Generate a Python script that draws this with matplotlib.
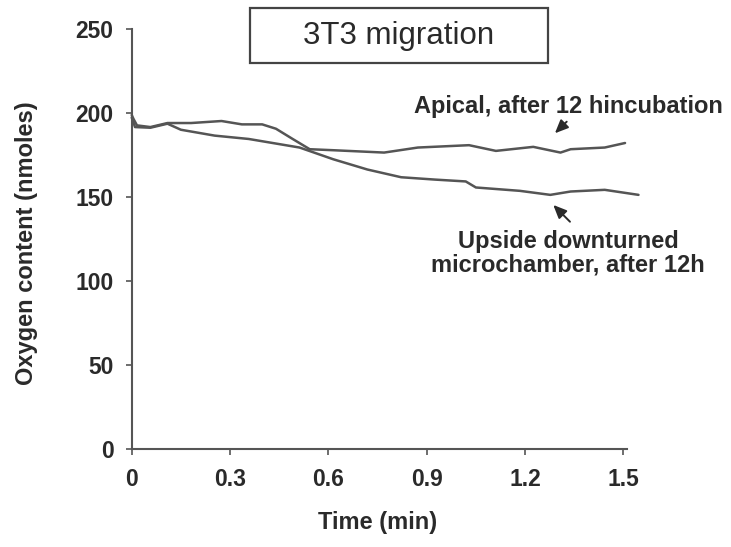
import matplotlib
matplotlib.use("Agg")
import matplotlib.pyplot as plt
from matplotlib.patches import Rectangle

# Oxygen content traces (time in min, oxygen in nmoles)
apical_time = [0.0, 0.005, 0.016, 0.057, 0.109, 0.181, 0.274, 0.336, 0.398, 0.44,
               0.491, 0.543, 0.615, 0.77, 0.873, 1.029, 1.111, 1.225, 1.308,
               1.339, 1.443, 1.505]
apical_o2 = [199.0, 196.8, 192.8, 191.8, 194.2, 194.2, 195.4, 193.4, 193.4, 190.8,
             184.7, 178.6, 178.0, 176.6, 179.6, 181.0, 177.6, 180.0, 176.6,
             178.6, 179.6, 182.3]

upside_time = [0.0, 0.01, 0.057, 0.109, 0.15, 0.253, 0.357, 0.512, 0.615, 0.719,
               0.822, 0.925, 1.019, 1.05, 1.184, 1.277, 1.339, 1.443, 1.546]
upside_o2 = [197.5, 191.8, 191.4, 193.8, 190.2, 186.7, 184.7, 179.6, 172.6, 166.5,
             161.9, 160.5, 159.4, 155.8, 153.8, 151.4, 153.4, 154.4, 151.4]

x_ticks = [0, 0.3, 0.6, 0.9, 1.2, 1.5]
x_tick_labels = ["0", "0.3", "0.6", "0.9", "1.2", "1.5"]
y_ticks = [0, 50, 100, 150, 200, 250]

title = "3T3 migration"
apical_label = "Apical, after 12 hincubation"
upside_label = "Upside downturned\nmicrochamber, after 12h"

plt.rcParams["font.family"] = ["Liberation Sans", "DejaVu Sans"]
ink = "#2a2a2a"
line_col = "#555555"

fig = plt.figure(figsize=(7.31, 5.47), dpi=100)
ax = fig.add_axes([0.1802, 0.1792, 0.8573 - 0.1802, 0.9463 - 0.1792])

for t, v in ((apical_time, apical_o2), (upside_time, upside_o2)):
    ax.plot(t, v, color=line_col, lw=1.8, clip_on=False,
            solid_joinstyle="round", solid_capstyle="round")

ax.set_xlim(0, 1.51)
ax.set_ylim(0, 250)
ax.set_xticks(x_ticks)
ax.set_xticklabels(x_tick_labels)
ax.set_yticks(y_ticks)

for side in ("top", "right"):
    ax.spines[side].set_visible(False)
for side in ("left", "bottom"):
    ax.spines[side].set_color(line_col)
    ax.spines[side].set_linewidth(1.5)

ax.tick_params(axis="both", direction="out", length=4, width=1.2, color=line_col,
               labelsize=16.5, labelcolor=ink)
ax.tick_params(axis="y", pad=9)
ax.tick_params(axis="x", pad=10)
for lab in ax.get_xticklabels() + ax.get_yticklabels():
    lab.set_fontweight("bold")

ax.set_xlabel("Time (min)", fontsize=17, fontweight="bold", color=ink)
ax.xaxis.label.set_va("center")
ax.xaxis.set_label_coords(0.4976, -0.176)
ax.set_ylabel("Oxygen content (nmoles)", fontsize=17, fontweight="bold", color=ink)
ax.yaxis.label.set_va("center")
ax.yaxis.set_label_coords(-0.212, 0.491)

# Annotations with their arrows
arrow_props = dict(arrowstyle="-|>,head_length=0.8,head_width=0.35", color=ink, lw=1.4,
                   shrinkA=0, shrinkB=0)
ax.text(1.331, 203.9, apical_label, ha="center", va="center", fontsize=17,
        fontweight="bold", color=ink, clip_on=False)
ax.annotate("", xy=(1.291, 188.1), xytext=(1.327, 195.0), arrowprops=arrow_props)

ax.text(1.331, 116.6, upside_label, ha="center", va="center", fontsize=17,
        fontweight="bold", color=ink, linespacing=1.0, clip_on=False)
ax.annotate("", xy=(1.286, 145.4), xytext=(1.337, 135.4), arrowprops=arrow_props)

# Boxed title
fig.patches.append(Rectangle((0.342, 0.8843), 0.408, 0.1006, transform=fig.transFigure,
                             fill=False, edgecolor="#444444", lw=1.6))
fig.text(0.5458, 0.9346, title, ha="center", va="center", fontsize=22.5, color=ink)

fig.savefig("out.png", dpi=100)
